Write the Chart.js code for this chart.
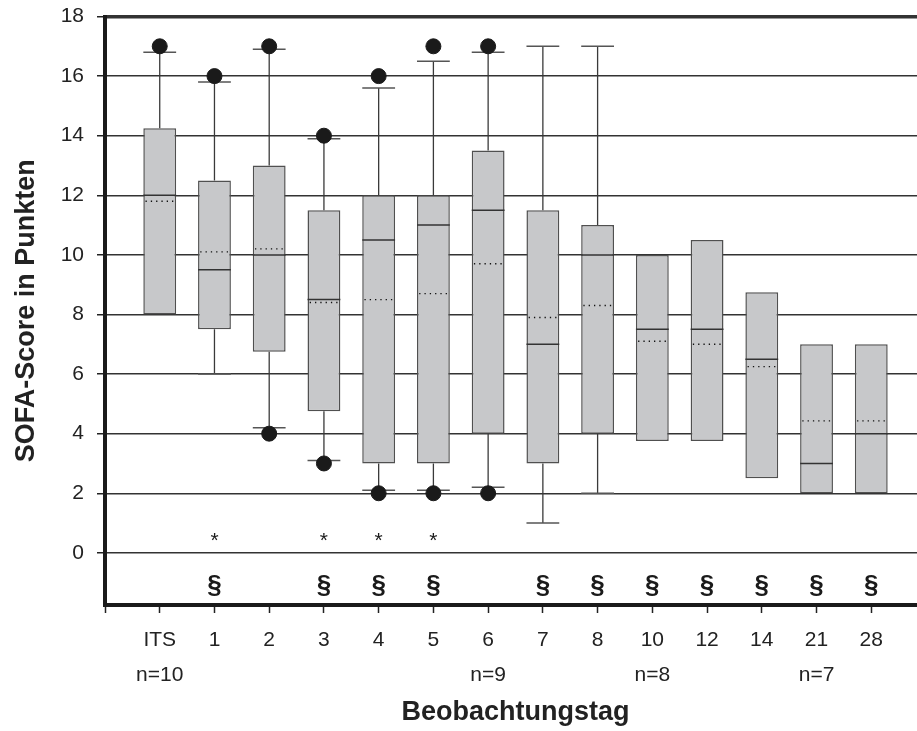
<!DOCTYPE html>
<html lang="de">
<head>
<meta charset="utf-8">
<title>SOFA-Score im Verlauf</title>
<script src="https://cdn.jsdelivr.net/npm/chart.js@4.4.1/dist/chart.umd.min.js"></script>
<style>
  html, body { margin: 0; padding: 0; background: #fff; overflow: hidden; }
  #wrap { width: 926px; height: 731px; }
</style>
</head>
<body>
<div id="wrap"><canvas id="sofaChart" width="926" height="731"></canvas></div>
<script>
// Beobachtungstage und Fallzahlen (n unter dem jeweiligen Tag)
var tage = ['ITS', '1', '2', '3', '4', '5', '6', '7', '8', '10', '12', '14', '21', '28'];
var fallzahl = ['n=10', '', '', '', '', '', 'n=9', '', '', 'n=8', '', '', 'n=7', ''];

// Boxplot-Kennwerte je Tag, SOFA-Punkte
var quartil25 = [8, 7.5, 6.75, 4.75, 3, 3, 4, 3, 4, 3.75, 3.75, 2.5, 2, 2];
var quartil75 = [14.25, 12.5, 13, 11.5, 12, 12, 13.5, 11.5, 11, 10, 10.5, 8.75, 7, 7];
var median = [12, 9.5, 10, 8.5, 10.5, 11, 11.5, 7, 10, 7.5, 7.5, 6.5, 3, 4];
var mittelwert = [11.8, 10.1, 10.2, 8.4, 8.5, 8.7, 9.7, 7.9, 8.3, 7.1, 7.0, 6.25, 4.43, 4.43];
var whiskerOben = [16.8, 15.8, 16.9, 13.9, 15.6, 16.5, 16.8, 17, 17, null, null, null, null, null];
var whiskerUnten = [null, 6, 4.2, 3.1, 2.1, 2.1, 2.2, 1, 2, null, null, null, null, null];
var ausreisserOben = [17, 16, 17, 14, 16, 17, 17, null, null, null, null, null, null, null];
var ausreisserUnten = [null, null, 4, 3, 2, 2, 2, null, null, null, null, null, null, null];

// Signifikanzmarken
var sternMarke = ['', '*', '', '*', '*', '*', '', '', '', '', '', '', '', ''];
var paragraphMarke = ['', '§', '', '§', '§', '§', '', '§', '§', '§', '§', '§', '§', '§'];

(function(){
  var schrift = '"Liberation Sans", Arial, Helvetica, sans-serif';
  Chart.defaults.font.family = schrift;
  Chart.defaults.color = '#222';

  function punkte(arr){
    return arr.map(function(v, i){ return { x: i, y: v }; });
  }

  // senkrechte Strecken von a nach b, getrennt durch Lücken
  function strecken(a, b){
    var out = [];
    a.forEach(function(v, i){
      if (v == null || b[i] == null) return;
      out.push({ x: i, y: v }, { x: i, y: b[i] }, { x: i, y: null });
    });
    return out;
  }

  // waagrechte Mittelwert-Linien in der Box
  function mittelLinien(arr){
    var out = [];
    arr.forEach(function(v, i){
      out.push({ x: i - 0.26, y: v }, { x: i + 0.28, y: v }, { x: i, y: null });
    });
    return out;
  }

  var marken = {
    id: 'signifikanz',
    afterDatasetsDraw: function(chart){
      var ctx = chart.ctx, xs = chart.scales.x, ys = chart.scales.y;
      ctx.save();
      ctx.fillStyle = '#1a1a1a';
      ctx.textAlign = 'center';
      ctx.textBaseline = 'middle';
      tage.forEach(function(t, i){
        var px = xs.getPixelForValue(i);
        if (sternMarke[i]) {
          ctx.font = '21px ' + schrift;
          ctx.fillText(sternMarke[i], px, ys.getPixelForValue(0.4));
        }
        if (paragraphMarke[i]) {
          ctx.font = 'bold 26px ' + schrift;
          ctx.fillText(paragraphMarke[i], px, ys.getPixelForValue(-1.1));
        }
      });
      ctx.restore();
    }
  };

  var linie = { type: 'line', showLine: true, spanGaps: false, pointRadius: 0, fill: false, tension: 0 };
  var punkt = { type: 'line', showLine: false };

  new Chart(document.getElementById('sofaChart').getContext('2d'), {
    type: 'bar',
    data: {
      datasets: [
        Object.assign({}, punkt, {
          data: punkte(ausreisserOben).concat(punkte(ausreisserUnten)),
          pointStyle: 'circle', pointRadius: 7.5,
          pointBackgroundColor: '#1a1a1a', pointBorderColor: '#1a1a1a', pointBorderWidth: 1,
          order: 0
        }),
        Object.assign({}, linie, {
          data: mittelLinien(mittelwert),
          borderColor: '#111', borderWidth: 1.4, borderDash: [1.3, 4],
          order: 1
        }),
        Object.assign({}, punkt, {
          data: punkte(median),
          pointStyle: 'line', pointRadius: 16.4,
          pointBorderColor: '#333', pointBorderWidth: 1.5,
          order: 2
        }),
        Object.assign({}, punkt, {
          data: punkte(whiskerOben).concat(punkte(whiskerUnten)),
          pointStyle: 'line', pointRadius: 16.4,
          pointBorderColor: '#555', pointBorderWidth: 1.5,
          order: 3
        }),
        Object.assign({}, linie, {
          data: strecken(quartil75, whiskerOben).concat(strecken(quartil25, whiskerUnten)),
          borderColor: '#3a3a3a', borderWidth: 1.3,
          order: 4
        }),
        {
          type: 'bar',
          data: quartil25.map(function(q, i){ return { x: i, y: [q, quartil75[i]] }; }),
          backgroundColor: '#c7c8ca',
          borderColor: '#505050',
          borderWidth: 1.5,
          borderSkipped: false,
          barPercentage: 0.6,
          categoryPercentage: 1,
          order: 5
        }
      ]
    },
    options: {
      responsive: false,
      animation: false,
      events: [],
      layout: { autoPadding: false, padding: { top: 16.5, right: 0, bottom: 0, left: 0 } },
      plugins: { legend: { display: false }, tooltip: { enabled: false } },
      scales: {
        x: {
          type: 'linear',
          min: -1, max: 14,
          offset: false,
          // feste Achsenhöhe, kein Randabstand für Beschriftungen
          afterFit: function(s){ s.height = 126; s.paddingLeft = 0; s.paddingRight = 0; },
          grid: { offset: false, drawOnChartArea: false, drawTicks: true, tickLength: 8, tickColor: '#222', tickWidth: 1.5 },
          border: { display: true, color: '#1a1a1a', width: 4 },
          ticks: {
            stepSize: 1, autoSkip: false, maxRotation: 0, padding: 9,
            font: { size: 21, lineHeight: 1.69 },
            callback: function(v){
              var i = Math.round(v);
              return (i >= 0 && i < tage.length) ? [tage[i], fallzahl[i]] : '';
            }
          },
          title: { display: true, text: 'Beobachtungstag', font: { size: 27, weight: 'bold' }, padding: { top: 0, bottom: 2 } }
        },
        y: {
          min: -1.75, max: 18,
          afterFit: function(s){ s.width = 105; s.paddingTop = 0; s.paddingBottom = 0; },
          grid: {
            color: '#333',
            lineWidth: function(c){ return c.tick && c.tick.value === 18 ? 3.5 : 1.5; },
            tickLength: 8, tickColor: '#222', tickWidth: 1.5
          },
          border: { display: true, color: '#1a1a1a', width: 4 },
          ticks: { stepSize: 2, includeBounds: false, padding: 13, font: { size: 21 } },
          title: { display: true, text: 'SOFA-Score in Punkten', font: { size: 27, weight: 'bold' }, padding: { top: 10, bottom: 0 } }
        }
      }
    },
    plugins: [marken]
  });
})();
</script>
</body>
</html>
